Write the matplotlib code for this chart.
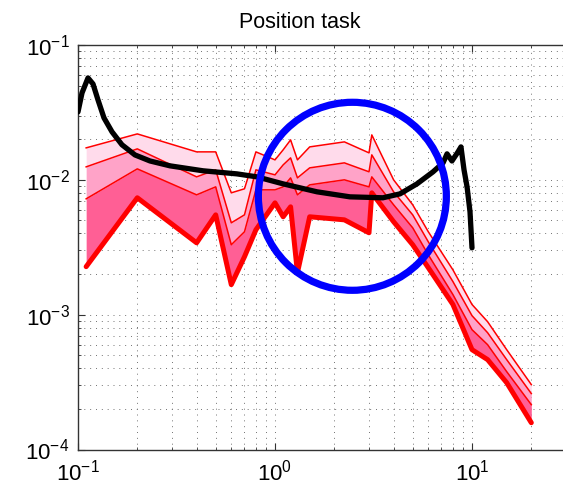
import numpy as np
import matplotlib
matplotlib.use('Agg')
import matplotlib.pyplot as plt
from matplotlib.patches import Ellipse
from matplotlib.ticker import LogLocator

plt.rcParams['font.family'] = ['Liberation Sans', 'DejaVu Sans']
plt.rcParams['mathtext.fontset'] = 'custom'
plt.rcParams['mathtext.rm'] = 'Liberation Sans'
plt.rcParams['mathtext.it'] = 'Liberation Sans'

# ── data ─────────────────────────────────────────────────────────────────────
freq = [0.11, 0.2, 0.4, 0.5, 0.6, 0.7, 0.8, 1.0, 1.1, 1.2, 1.3, 1.5, 2.25,
        3.0, 3.1, 4, 5, 6, 8, 10, 12, 15, 20]
band_top = [0.01726, 0.02191, 0.01612, 0.01612, 0.00801, 0.00858, 0.01612,
            0.01406, 0.01669, 0.01978, 0.01406, 0.01755, 0.01912, 0.01585,
            0.02154, 0.01, 0.00653, 0.00412, 0.00215, 0.00119, 0.000887,
            0.00055, 0.000303]
band_hi = [0.01248, 0.01697, 0.01052, 0.01186, 0.0048, 0.0055, 0.01186,
           0.01089, 0.01291, 0.01455, 0.01034, 0.01227, 0.01336, 0.01147,
           0.01532, 0.00815, 0.0055, 0.00347, 0.00176, 0.000983, 0.000735,
           0.000464, 0.00026]
band_mid = [0.00723, 0.01206, 0.00774, 0.00887, 0.0033, 0.00412, 0.00843,
            0.00843, 0.00887, 0.01034, 0.00774, 0.00918, 0.01, 0.00887,
            0.01052, 0.00653, 0.00441, 0.00278, 0.00141, 0.000774, 0.000599,
            0.000378, 0.000215]
band_low = [0.00227, 0.00736, 0.00341, 0.0055, 0.00167, 0.00269, 0.00426,
            0.00675, 0.00532, 0.00631, 0.00205, 0.00532, 0.00505, 0.00405,
            0.00801, 0.00489, 0.0033, 0.00223, 0.00119, 0.00055, 0.000464,
            0.000313, 0.000158]

human_f = [0.1, 0.1048, 0.1124, 0.1192, 0.1263, 0.1355, 0.1488, 0.1672,
           0.1946, 0.232, 0.293, 0.431, 0.641, 0.81, 1.098, 1.634, 2.40,
           3.53, 4.31, 5.26, 6.34, 7.13, 7.47, 7.91, 8.49, 8.79, 9.11,
           9.44, 9.77, 10.0]
human_p = [0.0319, 0.0441, 0.057, 0.0514, 0.0392, 0.0288, 0.0227, 0.0182,
           0.0153, 0.0138, 0.0127, 0.01167, 0.01107, 0.01052, 0.00934,
           0.00815, 0.00748, 0.00736, 0.00787, 0.00934, 0.01146, 0.01336,
           0.01559, 0.0138, 0.01611, 0.01755, 0.01186, 0.00887, 0.00579,
           0.00313]

x_ticks = [0.1, 1, 10]
y_ticks = [1e-4, 1e-3, 1e-2, 1e-1]

# annotation circle (centre in data units, radius in pixels)
circle_centre = (2.47, 0.00755)
circle_radius_px = 94

# ── figure ───────────────────────────────────────────────────────────────────
W, H = 563, 487
fig = plt.figure(figsize=(W / 100, H / 100), dpi=100)
# axes run past the right border of the picture (cropped original)
ax = fig.add_axes([78 / W, (H - 449.5) / H, 3 * 197 / W, 404.5 / H])
ax.set_xscale('log')
ax.set_yscale('log')
ax.set_xlim(0.1, 100)
ax.set_ylim(1e-4, 1e-1)

ax.fill_between(freq, band_hi, band_top, color='#ffdbeb', lw=0, zorder=2)
ax.fill_between(freq, band_mid, band_hi, color='#ffa3c8', lw=0, zorder=2)
ax.fill_between(freq, band_low, band_mid, color='#ff5f95', lw=0, zorder=2)
for y in (band_top, band_hi, band_mid):
    ax.plot(freq, y, color='red', lw=1.1, zorder=3)
ax.plot(freq, band_low, color='red', lw=3.6, zorder=3,
        solid_joinstyle='round', solid_capstyle='round')

ax.plot(human_f, human_p, color='black', lw=3.8, zorder=4,
        solid_joinstyle='round', solid_capstyle='round')

# grid, MATLAB style
ax.set_xticks(x_ticks)
ax.set_yticks(y_ticks)
ax.xaxis.set_minor_locator(LogLocator(base=10, subs=np.arange(2, 10)))
ax.yaxis.set_minor_locator(LogLocator(base=10, subs=np.arange(2, 10)))
ax.grid(True, which='both', color='0.45', lw=0.7, linestyle=(0, (1, 5)),
        zorder=0)
ax.set_axisbelow(True)

ax.tick_params(which='both', direction='in', top=True, right=True,
               labelsize=16, color='0.2')
ax.tick_params(which='major', length=5, width=0.8)
ax.tick_params(which='minor', length=2.5, width=0.6)
ax.tick_params(axis='x', pad=7)
ax.tick_params(axis='y', pad=6)
for s in ax.spines.values():
    s.set_color('0.2')
    s.set_linewidth(1.0)

fig.text(300 / W, 1 - 28 / H, 'Position task', ha='center',
         va='baseline', fontsize=15.5)

# blue circle drawn in axes fractions so that it stays round
fig.canvas.draw()
cx, cy = ax.transAxes.inverted().transform(ax.transData.transform(circle_centre))
bb = ax.get_window_extent()
ax.add_patch(Ellipse((cx, cy), 2 * circle_radius_px / bb.width,
                     2 * circle_radius_px / bb.height, transform=ax.transAxes,
                     fill=False, edgecolor='#0000ff', lw=5.2, zorder=5,
                     clip_on=False))

fig.savefig('out.png', dpi=100)
